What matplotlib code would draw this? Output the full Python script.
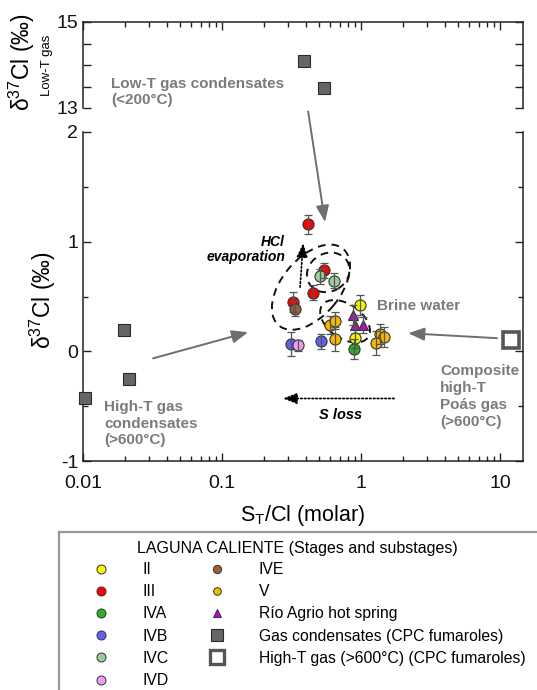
import matplotlib
matplotlib.use("Agg")
import matplotlib.pyplot as plt
from matplotlib.lines import Line2D
from matplotlib.patches import Ellipse, Rectangle
from matplotlib.transforms import ScaledTranslation
import matplotlib.ticker as mticker

plt.rcParams['font.family'] = ['Liberation Sans', 'DejaVu Sans']
plt.rcParams['mathtext.fontset'] = 'custom'
plt.rcParams['mathtext.rm'] = 'Liberation Sans'
plt.rcParams['mathtext.it'] = 'Liberation Sans:italic'
plt.rcParams['mathtext.bf'] = 'Liberation Sans:bold'

# --- data: ST/Cl (molar) vs d37Cl (permil) ---
ii_x = [0.98, 0.906]
ii_y = [0.42, 0.12]
ii_e = [0.09, 0.09]

iii_x = [0.418, 0.545, 0.45, 0.326]
iii_y = [1.157, 0.74, 0.536, 0.45]
iii_e = [0.09, 0.07, 0.07, 0.09]

iva_x = [0.89]
iva_y = [0.02]
iva_e = [0.09]

ivb_x = [0.313, 0.515]
ivb_y = [0.07, 0.09]
ivb_e = [0.11, 0.07]

ivc_x = [0.507, 0.643]
ivc_y = [0.685, 0.645]
ivc_e = [0.07, 0.07]

ivd_x = [0.35]
ivd_y = [0.055]
ivd_e = [0.05]

ive_x = [0.335]
ive_y = [0.39]
ive_e = [0.07]

v_x = [0.60, 0.65, 0.65, 1.37, 1.45, 1.28]
v_y = [0.24, 0.28, 0.115, 0.16, 0.13, 0.076]
v_e = [0.08, 0.08, 0.11, 0.09, 0.09, 0.11]

agrio_x = [0.88, 0.90, 1.04]
agrio_y = [0.33, 0.24, 0.24]
agrio_e = [0.09, 0.07, 0.07]

lowT_x = [0.39, 0.54]          # low-T gas condensates (upper panel)
lowT_y = [14.09, 13.47]
highT_cond_x = [0.0197, 0.0214, 0.0103]
highT_cond_y = [0.19, -0.25, -0.43]

composite_x = [12.0]
composite_y = [0.10]

xticks = [0.01, 0.1, 1, 10]
xticklabels = ['0.01', '0.1', '1', '10']

fig = plt.figure(figsize=(5.37, 6.9), dpi=100)
W, H = 537.0, 690.0
ax_top = fig.add_axes([83 / W, 1 - 108 / H, 440 / W, 86 / H])
ax = fig.add_axes([83 / W, 1 - 461 / H, 440 / W, 329 / H])

edge = '#333333'
bar = '#555555'
gray_txt = '#7b7b7b'
arrow_gray = '#6e6e6e'


def stage(a, x, y, e, color, marker='o', ms=8):
    a.plot(x, y, ls='none', marker=marker, ms=ms, mfc=color, mec=edge, mew=0.8, zorder=3)
    a.errorbar(x, y, yerr=e, fmt='none', ecolor=bar, elinewidth=0.9,
               capsize=3.2, capthick=0.9, zorder=4)


stage(ax, ii_x, ii_y, ii_e, '#f7f700')
stage(ax, iii_x, iii_y, iii_e, '#ff0000')
stage(ax, iva_x, iva_y, iva_e, '#25b325')
stage(ax, ivb_x, ivb_y, ivb_e, '#6060ee')
stage(ax, ivc_x, ivc_y, ivc_e, '#9ccc9c')
stage(ax, ivd_x, ivd_y, ivd_e, '#f09cf0')
stage(ax, ive_x, ive_y, ive_e, '#9a6235')
stage(ax, v_x, v_y, v_e, '#f5b900')
stage(ax, agrio_x, agrio_y, agrio_e, '#cc00cc', marker='^', ms=7.5)

ax_top.plot(lowT_x, lowT_y, ls='none', marker='s', ms=8, mfc='#666666', mec='#2b2b2b', mew=0.8)
ax.plot(highT_cond_x, highT_cond_y, ls='none', marker='s', ms=8, mfc='#666666', mec='#2b2b2b',
        mew=0.8, clip_on=False, zorder=5)
ax.plot(composite_x, composite_y, ls='none', marker='s', ms=11, mfc='white', mec='#555555',
        mew=2.6, zorder=5)

# axes styling
for a in (ax_top, ax):
    a.set_xscale('log')
    a.set_xlim(0.01, 14.6)
    for s in a.spines.values():
        s.set_linewidth(1.1)
        s.set_color('#222222')
    a.tick_params(which='both', direction='in', right=True, width=1.0, colors='#222222',
                  labelsize=14, labelcolor='#111111')
    a.tick_params(which='major', length=5.5)
    a.tick_params(which='minor', length=3.5)

ax_top.spines['bottom'].set_visible(False)
ax_top.tick_params(axis='x', which='both', bottom=False, top=True, labelbottom=False)
ax_top.set_ylim(13, 15)
ax_top.yaxis.set_major_locator(mticker.FixedLocator([13, 15]))
ax_top.yaxis.set_minor_locator(mticker.FixedLocator([13.5, 14, 14.5]))
ax_top.yaxis.set_major_formatter(mticker.FixedFormatter(['13', '15']))
ax_top.tick_params(axis='y', which='minor', length=5.5)

ax.spines['top'].set_visible(False)
ax.tick_params(axis='x', which='both', top=False)
ax.tick_params(axis='x', which='major', pad=10)
ax.set_ylim(-1, 2)
ax.yaxis.set_major_locator(mticker.FixedLocator([-1, 0, 1, 2]))
ax.yaxis.set_minor_locator(mticker.MultipleLocator(0.5))
ax.yaxis.set_major_formatter(mticker.FixedFormatter(['-1', '0', '1', '2']))
ax.xaxis.set_major_locator(mticker.FixedLocator(xticks))
ax.xaxis.set_major_formatter(mticker.FixedFormatter(xticklabels))
ax.xaxis.set_minor_formatter(mticker.NullFormatter())

ax.set_xlabel(r'S$_\mathrm{T}$/Cl (molar)', fontsize=15.5, labelpad=8)
fig.text(43 / W, 1 - 300 / H, r'δ$^{37}$Cl (‰)', rotation=90, ha='center', va='center', fontsize=16.5)
fig.text(22 / W, 1 - 62 / H, r'δ$^{37}$Cl (‰)', rotation=90, ha='center', va='center', fontsize=16.5)
fig.text(47 / W, 1 - 65 / H, 'Low-T gas', rotation=90, ha='center', va='center', fontsize=9.5)

# dashed ellipses (size in inches, centred on a data point)
def dashed_ellipse(x, y, w, h, ang):
    tr = fig.dpi_scale_trans + ScaledTranslation(x, y, ax.transData)
    ax.add_artist(Ellipse((0, 0), w, h, angle=ang, transform=tr, fill=False,
                          ls=(0, (4, 3)), lw=1.4, ec='#111111', zorder=2))

dashed_ellipse(0.436, 0.585, 1.0, 0.58, 50)
dashed_ellipse(0.58, 0.72, 0.44, 0.38, 30)
dashed_ellipse(0.767, 0.274, 0.56, 0.34, -35)

# annotations
aprops = dict(arrowstyle='-|>,head_length=0.7,head_width=0.28', color=arrow_gray, lw=1.4,
              shrinkA=0, shrinkB=0, mutation_scale=14)
ax.annotate('', xy=(0.55, 1.18), xytext=(0.416, 12.92), textcoords=ax_top.transData,
            arrowprops=aprops, annotation_clip=False)
ax.annotate('', xy=(0.154, 0.174), xytext=(0.0319, -0.064), arrowprops=aprops)
ax.annotate('', xy=(2.18, 0.165), xytext=(9.5, 0.12), arrowprops=aprops)

dprops = dict(arrowstyle='-|>,head_length=0.7,head_width=0.28', color='black', lw=1.2,
              ls=(0, (1, 1.3)), shrinkA=0, shrinkB=0, mutation_scale=12)
ax.annotate('', xy=(0.383, 0.986), xytext=(0.364, 0.585), arrowprops=dprops)
ax.annotate('', xy=(0.275, -0.43), xytext=(1.73, -0.43), arrowprops=dprops)

ax_top.text(0.0159, 13.38, 'Low-T gas condensates\n(<200°C)', color=gray_txt, fontweight='bold',
            fontsize=11, ha='left', va='center', linespacing=1.2)
ax.text(1.30, 0.41, 'Brine water', color=gray_txt, fontweight='bold', fontsize=11,
        ha='left', va='center')
ax.text(3.70, -0.415, 'Composite\nhigh-T\nPoás gas\n(>600°C)', color=gray_txt, fontweight='bold',
        fontsize=11, ha='left', va='center', linespacing=1.27)
ax.text(0.01416, -0.66, 'High-T gas\ncondensates\n(>600°C)', color=gray_txt, fontweight='bold',
        fontsize=11, ha='left', va='center', linespacing=1.24)
ax.text(0.284, 0.93, 'HCl\nevaporation', color='black', fontweight='bold', fontstyle='italic',
        fontsize=10, ha='right', va='center', multialignment='right', linespacing=1.15)
ax.text(0.71, -0.58, 'S loss', color='black', fontweight='bold', fontstyle='italic',
        fontsize=10.5, ha='center', va='center')

# legend
def mk(marker, color, ms, mec=edge, mew=0.7):
    return Line2D([], [], ls='none', marker=marker, ms=ms, mfc=color, mec=mec, mew=mew)

handles = [mk('o', '#f7f700', 6.5), mk('o', '#ff0000', 6.5), mk('o', '#25b325', 6.5),
           mk('o', '#6060ee', 6.5), mk('o', '#9ccc9c', 6.5), mk('o', '#f09cf0', 6.5),
           mk('o', '#9a6235', 6), mk('o', '#f5b900', 5.5), mk('^', '#cc00cc', 5.5),
           mk('s', '#666666', 8, '#2b2b2b', 0.8), mk('s', 'white', 9.5, '#555555', 2.4)]
labels = ['II', 'III', 'IVA', 'IVB', 'IVC', 'IVD',
          'IVE', 'V', 'Río Agrio hot spring', 'Gas condensates (CPC fumaroles)',
          'High-T gas (>600°C) (CPC fumaroles)']
fig.legend(handles, labels, ncol=2, loc='upper left', bbox_to_anchor=(93 / W, 1 - 562 / H),
           bbox_transform=fig.transFigure, frameon=False, fontsize=11.3, handlelength=1.0,
           handletextpad=2.17, columnspacing=2.55, labelspacing=0.46, borderpad=0,
           borderaxespad=0)
fig.text(137 / W, 1 - 548 / H, 'LAGUNA CALIENTE (Stages and substages)', fontsize=11.5,
         ha='left', va='center')
fig.add_artist(Rectangle((59 / W, -0.05), 1.0, 1 - 532 / H + 0.05, transform=fig.transFigure,
                         fill=False, ec='#999999', lw=1.6))

fig.savefig('out.png', dpi=100)
